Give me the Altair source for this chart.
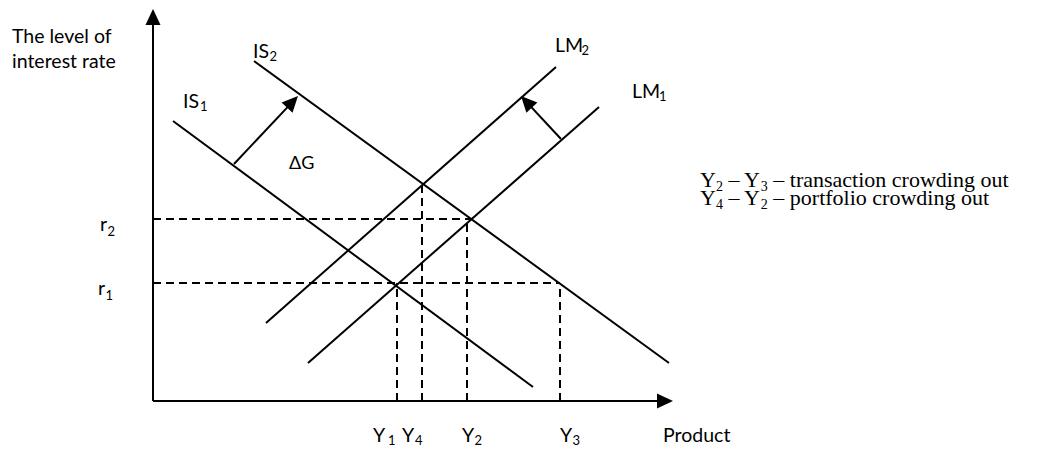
import math
import altair as alt
import pandas as pd

# ---- values (economic units: product on x, interest rate on y) ----
curve_labels = ["IS1", "IS2", "LM1", "LM2"]
curve_x_start = [2.0, 10.1, 15.5, 11.3]
curve_y_start = [28.0, 34.0, 3.8, 7.8]
curve_x_end = [38.0, 51.6, 44.6, 40.3]
curve_y_end = [1.4, 3.8, 29.4, 33.4]

rate_labels = ["r2", "r1"]
rate_levels = [18.2, 11.8]
rate_reach = [31.7, 40.7]

output_labels = ["Y1", "Y4", "Y2", "Y3"]
output_levels = [24.4, 26.9, 31.4, 40.7]
output_reach = [11.8, 21.6, 18.2, 11.8]

axis_output_max = 52.0
axis_rate_max = 39.2

shift_labels = ["dG", "dM"]
shift_x_from = [8.1, 40.8]
shift_y_from = [23.7, 26.2]
shift_x_to = [14.5, 36.8]
shift_y_to = [30.5, 30.5]

# annotation texts: text, anchor x, baseline y, font size
sans_texts = ["The level of", "interest rate", "IS", "2", "IS", "1", "LM", "2", "LM", "1", "ΔG",
              "r", "2", "r", "1", "Y", "1", "Y", "4", "Y", "2", "Y", "3", "Product"]
sans_x = [-14.1, -14.1, 10.0, 11.65, 3.0, 4.7, 40.2, 42.85, 47.9, 50.6, 13.6,
          -5.3, -4.55, -5.5, -4.75, 22.0, 23.5, 24.9, 26.2, 30.9, 32.15, 40.7, 41.95, 51.0]
sans_y = [35.8, 33.3, 34.3, 34.0, 29.3, 29.0, 34.9, 34.6, 30.3, 30.0, 23.2,
          17.0, 16.5, 10.6, 10.1, -4.1, -4.4, -4.1, -4.4, -4.1, -4.4, -4.1, -4.4, -4.1]
sans_size = [19.5, 19.5, 19.5, 13, 19.5, 13, 19.5, 13, 19.5, 13, 18,
             19.5, 13, 19.5, 13, 19.5, 13, 19.5, 13, 19.5, 13, 19.5, 13, 19.5]

serif_texts = ["Y", "2", "– Y", "3", "– transaction crowding out",
               "Y", "4", "– Y", "2", "– portfolio crowding out"]
serif_x = [54.7, 56.29, 57.54, 60.78, 62.03, 54.7, 56.29, 57.54, 60.78, 62.03]
serif_y = [21.45, 21.05, 21.45, 21.05, 21.45, 19.65, 19.25, 19.65, 19.25, 19.65]
serif_size = [22, 14, 22, 14, 22, 22, 14, 22, 14, 22]

# ---- build tables ----
head_len = 0.8  # shaft stops short of arrow tip

solid = []
for i in range(len(curve_labels)):
    solid.append(dict(x=curve_x_start[i], y=curve_y_start[i], x2=curve_x_end[i], y2=curve_y_end[i]))
solid.append(dict(x=0.0, y=0.0, x2=0.0, y2=axis_rate_max - head_len))
solid.append(dict(x=0.0, y=0.0, x2=axis_output_max - head_len, y2=0.0))

heads = [dict(x=0.0, y=axis_rate_max, angle=0.0), dict(x=axis_output_max, y=0.0, angle=90.0)]
for i in range(len(shift_labels)):
    dx = shift_x_to[i] - shift_x_from[i]
    dy = shift_y_to[i] - shift_y_from[i]
    L = math.hypot(dx, dy)
    solid.append(dict(x=shift_x_from[i], y=shift_y_from[i],
                      x2=shift_x_to[i] - dx / L * head_len, y2=shift_y_to[i] - dy / L * head_len))
    heads.append(dict(x=shift_x_to[i], y=shift_y_to[i], angle=math.degrees(math.atan2(dx, dy)) % 360))

dashed = []
for i in range(len(rate_labels)):
    dashed.append(dict(x=0.0, y=rate_levels[i], x2=rate_reach[i], y2=rate_levels[i]))
for i in range(len(output_labels)):
    dashed.append(dict(x=output_levels[i], y=0.0, x2=output_levels[i], y2=output_reach[i]))

solid_df = pd.DataFrame(solid)
dashed_df = pd.DataFrame(dashed)
heads_df = pd.DataFrame(heads)
sans_df = pd.DataFrame(dict(t=sans_texts, x=sans_x, y=sans_y, s=sans_size))
serif_df = pd.DataFrame(dict(t=serif_texts, x=serif_x, y=serif_y, s=serif_size))

xs = alt.Scale(domain=[-14.5, 88.0], nice=False, zero=False)
ys = alt.Scale(domain=[-4.6, 39.3], nice=False, zero=False)


def X(f="x"):
    return alt.X(f + ":Q", scale=xs, axis=None)


def Y(f="y"):
    return alt.Y(f + ":Q", scale=ys, axis=None)


solid_layer = alt.Chart(solid_df).mark_rule(color="black", strokeWidth=2).encode(
    x=X(), y=Y(), x2="x2:Q", y2="y2:Q")
dashed_layer = alt.Chart(dashed_df).mark_rule(color="black", strokeWidth=2, strokeDash=[8, 5]).encode(
    x=X(), y=Y(), x2="x2:Q", y2="y2:Q")
head_layer = alt.Chart(heads_df).mark_point(
    shape="M0,0L-0.47,1L0.47,1Z", filled=True, color="black", opacity=1, size=1024, strokeWidth=0
).encode(x=X(), y=Y(), angle=alt.Angle("angle:Q", scale=None))
sans_layer = alt.Chart(sans_df).mark_text(
    font="Lato", align="left", baseline="alphabetic", color="black"
).encode(x=X(), y=Y(), text="t:N", size=alt.Size("s:Q", scale=None))
serif_layer = alt.Chart(serif_df).mark_text(
    font="Liberation Serif", align="left", baseline="alphabetic", color="black"
).encode(x=X(), y=Y(), text="t:N", size=alt.Size("s:Q", scale=None))

chart = alt.layer(dashed_layer, solid_layer, head_layer, sans_layer, serif_layer).properties(
    width=1025, height=439, padding=0, autosize=alt.AutoSizeParams(type="none"),
    background="white"
).configure_view(strokeWidth=0)

chart.save("out.html", embed_options={"renderer": "svg", "actions": False})
